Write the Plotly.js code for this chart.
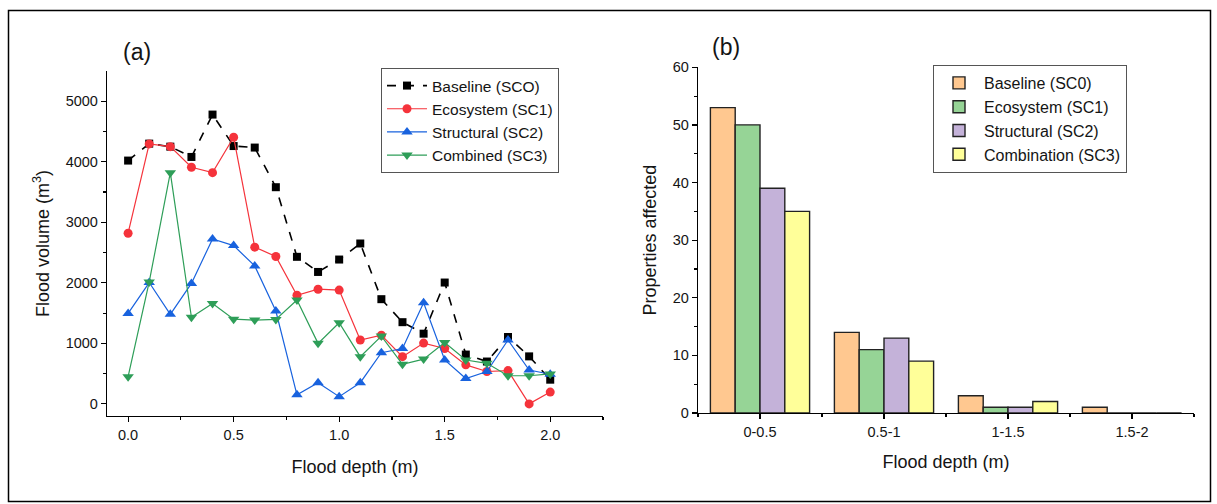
<!DOCTYPE html>
<html>
<head>
<meta charset="utf-8">
<script src="https://cdn.plot.ly/plotly-3.0.1.min.js"></script>
<style>html,body{margin:0;padding:0;background:#fff;}#chart{width:1217px;height:504px;}</style>
</head>
<body>
<div id="chart"></div>
<script>
// ---- Data: panel (a) ----
const depth = [0.0,0.1,0.2,0.3,0.4,0.5,0.6,0.7,0.8,0.9,1.0,1.1,1.2,1.3,1.4,1.5,1.6,1.7,1.8,1.9,2.0];
const baseline   = [4020,4300,4250,4080,4780,4260,4235,3580,2430,2180,2385,2650,1730,1350,1160,2005,815,700,1105,785,400];
const ecosystem  = [2820,4295,4250,3910,3820,4405,2590,2435,1795,1895,1880,1055,1135,780,1005,915,645,535,550,0,195];
const structural = [1495,2005,1480,1990,2725,2615,2280,1535,150,350,120,350,845,915,1670,725,420,535,1055,560,490];
const combined   = [450,2015,3820,1430,1660,1400,1385,1395,1715,1000,1340,780,1120,655,740,1015,725,670,465,465,495];
const lineNames = ['Baseline (SCO)','Ecosystem (SC1)','Structural (SC2)','Combined (SC3)'];

// ---- Data: panel (b) ----
const depthClasses = ['0-0.5','0.5-1','1-1.5','1.5-2'];
const propBaseline    = [53,14,3,1];
const propEcosystem   = [50,11,1,0];
const propStructural  = [39,13,1,0];
const propCombination = [35,9,2,0];
const barNames = ['Baseline (SC0)','Ecosystem (SC1)','Structural (SC2)','Combination (SC3)'];

const W = 1217, H = 504;
const px = x => x / W;
const py = y => 1 - y / H;
const FONT = 'Arial, "Liberation Sans", sans-serif';
const TXT = '#141414';

const traces = [
  {x: depth, y: baseline, name: lineNames[0], mode: 'lines+markers', xaxis: 'x', yaxis: 'y', legend: 'legend',
   line: {color: '#000000', width: 1.6, dash: 'dash'}, marker: {symbol: 'square', size: 8, color: '#000000'}},
  {x: depth, y: ecosystem, name: lineNames[1], mode: 'lines+markers', xaxis: 'x', yaxis: 'y', legend: 'legend',
   line: {color: '#F5333B', width: 1.2}, marker: {symbol: 'circle', size: 9, color: '#F5333B'}},
  {x: depth, y: structural, name: lineNames[2], mode: 'lines+markers', xaxis: 'x', yaxis: 'y', legend: 'legend',
   line: {color: '#1862DE', width: 1.2}, marker: {symbol: 'triangle-up', size: 10, color: '#1862DE'}},
  {x: depth, y: combined, name: lineNames[3], mode: 'lines+markers', xaxis: 'x', yaxis: 'y', legend: 'legend',
   line: {color: '#2E9E58', width: 1.2}, marker: {symbol: 'triangle-down', size: 10, color: '#2E9E58'}},
];
const barColors = ['#FFC890', '#96D496', '#C4B2D9', '#FFFF99'];
const barData = [propBaseline, propEcosystem, propStructural, propCombination];
barData.forEach((vals, i) => {
  traces.push({type: 'bar', x: depthClasses, y: vals, name: barNames[i], xaxis: 'x2', yaxis: 'y2', legend: 'legend2',
    marker: {color: barColors[i], line: {color: '#222222', width: 1.4}}});
});

const axisCommon = {
  showline: true, linecolor: '#000', linewidth: 1.2, mirror: false, showgrid: false, zeroline: false,
  ticks: 'outside', ticklen: 5, tickwidth: 1.2, tickcolor: '#000',
  tickfont: {family: FONT, size: 14.5, color: TXT}, automargin: false
};
const titleFont = {family: FONT, size: 18, color: TXT};
const minorStyle = {ticklen: 3, tickwidth: 1.2, tickcolor: '#000', ticks: 'outside'};

const layout = {
  width: W, height: H,
  margin: {l: 0, r: 0, t: 0, b: 0},
  paper_bgcolor: '#ffffff', plot_bgcolor: 'rgba(0,0,0,0)',
  font: {family: FONT, color: TXT},
  barmode: 'group', bargap: 0.2, bargroupgap: 0,
  xaxis: Object.assign({}, axisCommon, {
    domain: [px(107), px(603)], range: [-0.1, 2.25], anchor: 'y',
    tickvals: [0, 0.5, 1.0, 1.5, 2.0], ticktext: ['0.0','0.5','1.0','1.5','2.0'],
    minor: Object.assign({tickvals: [0.25, 0.75, 1.25, 1.75, 2.25]}, minorStyle),
    title: {text: 'Flood depth (m)', font: titleFont, standoff: 18}
  }),
  yaxis: Object.assign({}, axisCommon, {
    domain: [py(416), py(71)], range: [-200, 5500], anchor: 'x',
    tickvals: [0, 1000, 2000, 3000, 4000, 5000],
    minor: Object.assign({tickvals: [500, 1500, 2500, 3500, 4500]}, minorStyle),
    title: {text: 'Flood volume (m<sup>3</sup>)', font: titleFont, standoff: 11}
  }),
  xaxis2: Object.assign({}, axisCommon, {
    domain: [px(698), px(1194)], range: [-0.5, 3.5], anchor: 'y2', type: 'category',
    minor: Object.assign({tickvals: [-0.5, 0.5, 1.5, 2.5, 3.5]}, minorStyle),
    title: {text: 'Flood depth (m)', font: titleFont, standoff: 16}
  }),
  yaxis2: Object.assign({}, axisCommon, {
    domain: [py(413), py(67.3)], range: [0, 60], anchor: 'x2',
    tickvals: [0, 10, 20, 30, 40, 50, 60],
    minor: Object.assign({tickvals: [5, 15, 25, 35, 45, 55]}, minorStyle),
    title: {text: 'Properties affected', font: titleFont, standoff: 11}
  }),
  legend: {
    x: px(381), y: py(68), xanchor: 'left', yanchor: 'top',
    bgcolor: '#ffffff', bordercolor: '#555', borderwidth: 1,
    font: {family: FONT, size: 15.5, color: TXT},
    tracegroupgap: 0, itemwidth: 40
  },
  legend2: {
    x: px(933), y: py(65), xanchor: 'left', yanchor: 'top',
    bgcolor: '#ffffff', bordercolor: '#555', borderwidth: 1,
    font: {family: FONT, size: 16, color: TXT},
    tracegroupgap: 0, itemwidth: 40
  },
  annotations: [
    {text: '(a)', x: px(137), y: py(52), xref: 'paper', yref: 'paper', xanchor: 'center', yanchor: 'middle',
     showarrow: false, font: {family: FONT, size: 23, color: TXT}},
    {text: '(b)', x: px(726), y: py(47), xref: 'paper', yref: 'paper', xanchor: 'center', yanchor: 'middle',
     showarrow: false, font: {family: FONT, size: 23, color: TXT}}
  ],
  shapes: [
    {type: 'rect', xref: 'paper', yref: 'paper', x0: px(8.5), x1: px(1210.5), y0: py(501.5), y1: py(10.5),
     line: {color: '#000', width: 1.5}, fillcolor: 'rgba(0,0,0,0)', layer: 'below'}
  ],
  showlegend: true
};

Plotly.newPlot('chart', traces, layout, {displayModeBar: false, staticPlot: true});
</script>
</body>
</html>
